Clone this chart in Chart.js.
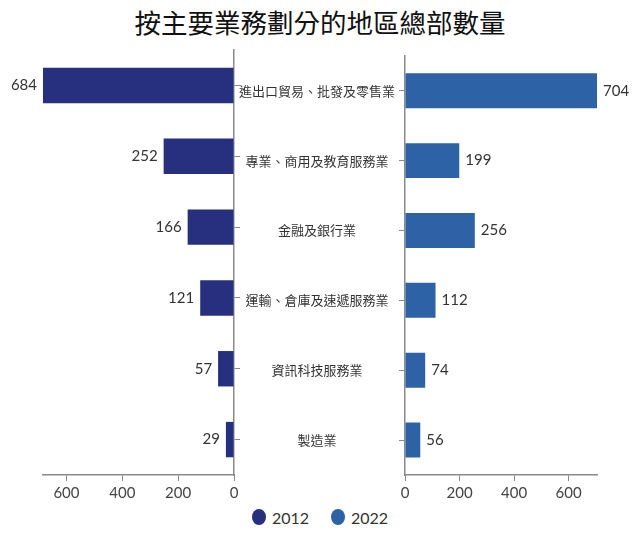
<!DOCTYPE html>
<html lang="zh-Hant">
<head>
<meta charset="utf-8">
<title>按主要業務劃分的地區總部數量</title>
<script src="https://cdn.jsdelivr.net/npm/chart.js@4.4.1/dist/chart.umd.min.js"></script>
<style>
  html, body { margin: 0; padding: 0; background: #fff; }
  body { width: 640px; height: 536px; position: relative; overflow: hidden; }
  .title {
    position: absolute; left: 0; top: 0; width: 640px; height: 44px;
    line-height: 44px; text-align: center;
    font-family: "Noto Sans CJK TC", "Noto Sans", sans-serif;
    font-size: 26.5px; color: #111;
  }
  .chart-box { position: absolute; top: 44px; height: 461px; }
  #leftBox { left: 0; width: 240px; }
  #rightBox { left: 234px; width: 406px; }
  .legend {
    position: absolute; left: 0; top: 505px; width: 640px; height: 24px;
    display: flex; justify-content: center; align-items: center;
    font-family: Lato, "Noto Sans", sans-serif; font-size: 16px; color: #333;
  }
  .legend span.item { display: flex; align-items: center; margin: 0 11px; }
  .legend i { display: inline-block; width: 14px; height: 16px; border-radius: 50%; margin-right: 6px; }
</style>
</head>
<body>
<div class="title">按主要業務劃分的地區總部數量</div>
<div class="chart-box" id="leftBox"><canvas id="leftChart"></canvas></div>
<div class="chart-box" id="rightBox"><canvas id="rightChart"></canvas></div>
<div class="legend" id="legend"></div>

<script>
const categories = [
  '進出口貿易、批發及零售業',
  '專業、商用及教育服務業',
  '金融及銀行業',
  '運輸、倉庫及速遞服務業',
  '資訊科技服務業',
  '製造業'
];
const years = ['2012', '2022'];
const values2012 = [684, 252, 166, 121, 57, 29];
const values2022 = [704, 199, 256, 112, 74, 56];
const tickValues = [0, 200, 400, 600];

const colors = ['#27307f', '#2e62a6'];
const axisColor = '#8a8a8a';
const textColor = '#333';

Chart.defaults.font.family = 'Lato, "Noto Sans", sans-serif';
Chart.defaults.color = textColor;
Chart.defaults.animation = false;

// numbers at the end of each bar
const barValues = {
  id: 'barValues',
  afterDatasetsDraw(chart, args, opts) {
    const ctx = chart.ctx;
    const meta = chart.getDatasetMeta(0);
    const data = chart.data.datasets[0].data;
    ctx.save();
    ctx.font = '15px Lato, "Noto Sans", sans-serif';
    ctx.fillStyle = textColor;
    ctx.textBaseline = 'middle';
    meta.data.forEach((bar, i) => {
      if (opts.side === 'left') {
        ctx.textAlign = 'right';
        ctx.fillText(data[i], bar.x - 6, bar.y);
      } else {
        ctx.textAlign = 'left';
        ctx.fillText(data[i], bar.x + 6, bar.y);
      }
    });
    ctx.restore();
  }
};

const xAxis = (max, reverse) => ({
  type: 'linear',
  min: 0,
  max: max,
  reverse: reverse,
  afterBuildTicks: scale => { scale.ticks = tickValues.map(v => ({ value: v })); },
  grid: { drawOnChartArea: false, drawTicks: true, tickLength: 6, color: axisColor },
  border: { color: axisColor, width: 1.5 },
  ticks: { font: { size: 15 }, color: '#444', padding: 3 }
});

const yGrid = { offset: false, drawOnChartArea: false, drawTicks: true, tickLength: 6, color: axisColor };

new Chart(document.getElementById('leftChart'), {
  type: 'bar',
  data: {
    labels: categories,
    datasets: [{
      label: years[0],
      data: values2012,
      backgroundColor: colors[0],
      barPercentage: 0.5,
      categoryPercentage: 1
    }]
  },
  options: {
    indexAxis: 'y',
    responsive: true,
    maintainAspectRatio: false,
    layout: { padding: { left: 43, top: 6, right: 0, bottom: 0 } },
    plugins: { legend: { display: false }, tooltip: { enabled: false }, barValues: { side: 'left' } },
    scales: {
      x: xAxis(Math.max(...values2012), true),
      y: {
        position: 'right',
        grid: yGrid,
        border: { color: axisColor, width: 1.5 },
        ticks: { display: false }
      }
    }
  },
  plugins: [barValues]
});

new Chart(document.getElementById('rightChart'), {
  type: 'bar',
  data: {
    labels: categories,
    datasets: [{
      label: years[1],
      data: values2022,
      backgroundColor: colors[1],
      barPercentage: 0.5,
      categoryPercentage: 1
    }]
  },
  options: {
    indexAxis: 'y',
    responsive: true,
    maintainAspectRatio: false,
    layout: { padding: { left: 0, top: 6, right: 43, bottom: 0 } },
    plugins: { legend: { display: false }, tooltip: { enabled: false }, barValues: { side: 'right' } },
    scales: {
      x: xAxis(Math.max(...values2022), false),
      y: {
        position: 'left',
        afterFit: scale => { scale.width = 171; },
        grid: yGrid,
        border: { color: axisColor, width: 1.5 },
        ticks: {
          crossAlign: 'center',
          padding: 4,
          color: textColor,
          font: { family: '"Noto Sans CJK TC", "Noto Sans", sans-serif', size: 13 }
        }
      }
    }
  },
  plugins: [barValues]
});

// legend
const legend = document.getElementById('legend');
years.forEach((y, i) => {
  const item = document.createElement('span');
  item.className = 'item';
  const dot = document.createElement('i');
  dot.style.background = colors[i];
  item.appendChild(dot);
  item.appendChild(document.createTextNode(y));
  legend.appendChild(item);
});
</script>
</body>
</html>
